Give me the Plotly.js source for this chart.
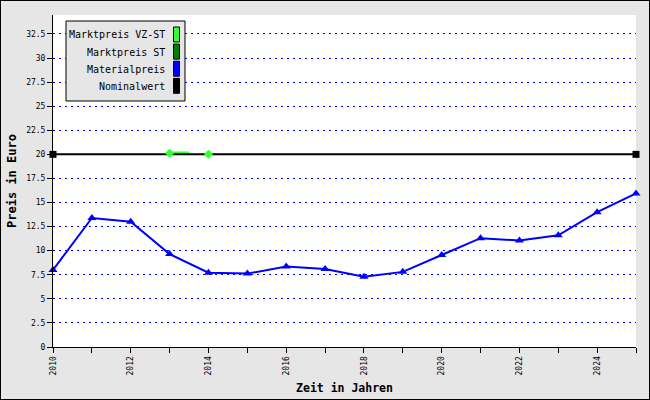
<!DOCTYPE html>
<html>
<head>
<meta charset="utf-8">
<script src="https://cdn.plot.ly/plotly-3.0.1.min.js"></script>
<style>
  html, body { margin: 0; padding: 0; background: #e6e6e6; }
  #wrap { position: relative; width: 650px; height: 400px; }
  #chart { width: 650px; height: 400px; }
  #frame { position: absolute; left: 0; top: 0; width: 650px; height: 400px;
           box-sizing: border-box; border: 1px solid #000; pointer-events: none; }
</style>
</head>
<body>
<div id="wrap"><div id="chart"></div><div id="frame"></div></div>
<script>
// ---- data ----
const years = [2010, 2011, 2012, 2013, 2014, 2015, 2016, 2017, 2018, 2019, 2020, 2021, 2022, 2023, 2024, 2025];
const materialpreis = [8.0, 13.4, 13.0, 9.65, 7.72, 7.62, 8.35, 8.1, 7.3, 7.8, 9.55, 11.3, 11.05, 11.6, 14.0, 15.95];
const nominalYears = [2010, 2025];
const nominalwert = [20, 20];
const vzstYears = [2013, 2014];
const vzstValues = [20.12, 20.02];
const vzstLineYears = [2013, 2013.5];
const vzstLineValues = [20.22, 20.22];
const legendLabels = ["Marktpreis VZ-ST", "Marktpreis ST", "Materialpreis", "Nominalwert"];
const legendColors = ["#33ff33", "#008000", "#0000ff", "#000000"];
const xTitle = "Zeit in Jahren";
const yTitle = "Preis in Euro";

// ---- layout helpers ----
const W = 650, H = 400;
const M = { l: 53, r: 14, t: 15, b: 53 };
const PW = W - M.l - M.r, PH = H - M.t - M.b;
const px = X => (X - M.l) / PW;
const py = Y => (H - M.b - Y) / PH;
const FONT = "DejaVu Sans Mono, Liberation Mono, monospace";

const traces = [
  { x: nominalYears, y: nominalwert, mode: 'lines+markers', cliponaxis: false,
    line: { color: '#000000', width: 2 },
    marker: { symbol: 'square', size: 7, color: '#000000' }, hoverinfo: 'x+y' },
  { x: vzstLineYears, y: vzstLineValues, mode: 'lines', cliponaxis: false,
    line: { color: '#33ff33', width: 1.5 }, hoverinfo: 'skip' },
  { x: vzstYears, y: vzstValues, mode: 'markers', cliponaxis: false,
    marker: { symbol: 'diamond', size: 7, color: '#33ff33' } },
  { x: years, y: materialpreis, mode: 'lines+markers', cliponaxis: false,
    line: { color: '#0000ff', width: 2 },
    marker: { symbol: 'triangle-up', size: 8, color: '#0000ff' } }
];

const shapes = [];
const annotations = [];
// legend box
shapes.push({ type: 'rect', xref: 'paper', yref: 'paper',
  x0: px(66), x1: px(185), y0: py(21), y1: py(101),
  fillcolor: '#e6e6e6', line: { color: '#000', width: 1 } });
legendLabels.forEach((lab, i) => {
  const cy = 34.5 + i * 17.1;
  shapes.push({ type: 'rect', xref: 'paper', yref: 'paper',
    x0: px(173.5), x1: px(179.5), y0: py(cy - 7.5), y1: py(cy + 7.5),
    fillcolor: legendColors[i], line: { color: '#000', width: 1 } });
  annotations.push({ xref: 'paper', yref: 'paper', x: px(167), y: py(cy + 0.5),
    xanchor: 'right', yanchor: 'middle', text: lab, showarrow: false,
    font: { family: FONT, size: 10, color: '#000' } });
});

const layout = {
  width: W, height: H,
  margin: M,
  paper_bgcolor: '#e6e6e6',
  plot_bgcolor: '#ffffff',
  showlegend: false,
  font: { family: FONT, color: '#000' },
  xaxis: {
    range: [2010, 2025], dtick: 2, tick0: 2010,
    tickangle: -90, ticks: 'outside', ticklen: 5, tickcolor: '#000',
    tickfont: { family: FONT, size: 8, color: '#000' },
    minor: { dtick: 1, ticks: 'outside', ticklen: 5, tickcolor: '#000', showgrid: false },
    showgrid: false, zeroline: false,
    showline: true, linecolor: '#000', linewidth: 1,
    automargin: false,
    title: { text: xTitle, standoff: 9, font: { family: FONT, size: 11.5, color: '#000', weight: 'bold' } }
  },
  yaxis: {
    range: [0, 34.47], dtick: 2.5, tick0: 0,
    ticks: 'outside', ticklen: 5, tickcolor: '#000',
    tickfont: { family: FONT, size: 8, color: '#000' },
    showgrid: true, gridcolor: '#0000ff', gridwidth: 1, griddash: '2px,4px',
    zeroline: false,
    showline: true, linecolor: '#000', linewidth: 1,
    automargin: false,
    title: { text: yTitle, standoff: 6, font: { family: FONT, size: 12, color: '#000', weight: 'bold' } }
  },
  shapes: shapes,
  annotations: annotations
};

Plotly.newPlot('chart', traces, layout, { staticPlot: true, displayModeBar: false });
</script>
</body>
</html>
